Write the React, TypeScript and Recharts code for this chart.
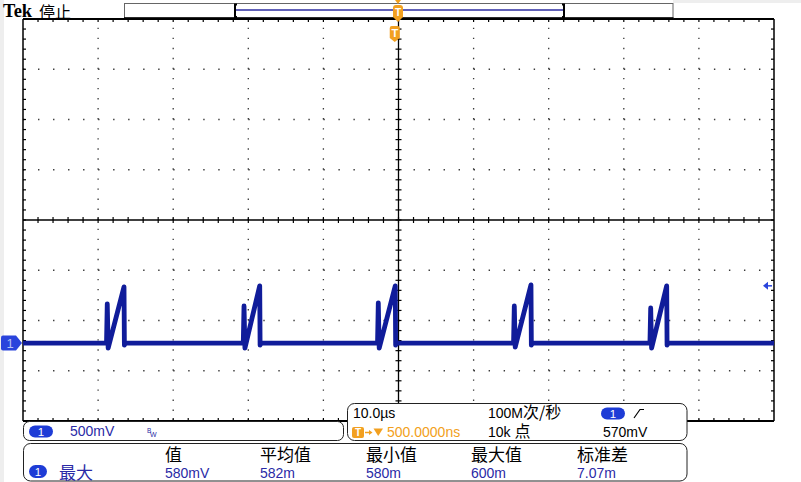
import React from 'react'
import { LineChart, Line, XAxis, YAxis, ReferenceLine, ReferenceDot } from 'recharts'

// ─── Scope settings ───────────────────────────────────────────────────────────

const T_DOMAIN: [number, number] = [0, 100] // µs, 10 div × 10.0 µs
const VOLTS_PER_DIV = 0.5
const GROUND_DIV = -2.45 // channel 1 ground marker, in divisions from centre
const Y_MIN = -4 * VOLTS_PER_DIV - GROUND_DIV * VOLTS_PER_DIV
const Y_MAX = 4 * VOLTS_PER_DIV - GROUND_DIV * VOLTS_PER_DIV

const TRIGGER_TIME = 49.5 // µs (500 ns left of centre)
const TRIGGER_LEVEL = 0.57 // V

// ─── Waveform ─────────────────────────────────────────────────────────────────

const SPIKE_TIMES = [11.22, 29.43, 47.31, 65.42, 83.58]
const SPIKE_VOLTS = [0.39, 0.37, 0.4, 0.37, 0.35]
const DIP_VOLTS = [-0.05, -0.05, -0.05, -0.04, -0.05]
const PEAK_TIMES = [13.45, 31.52, 49.57, 67.64, 85.71]
const PEAK_VOLTS = [0.56, 0.57, 0.57, 0.58, 0.57]
const BASELINE_VOLTS = 0

// ─── Readouts ─────────────────────────────────────────────────────────────────

const MEAS_HEADERS = ['值', '平均值', '最小值', '最大值', '标准差']
const MEAS_VALUES = ['580mV', '582m', '580m', '600m', '7.07m']
const MEAS_X = [165, 260, 366, 471, 577]

// ─── Colours ──────────────────────────────────────────────────────────────────

const TRACE = '#101c9a'
const CH_BLUE = '#1e3cd6'
const TEXT_BLUE = '#2a2aa6'
const ORANGE = '#f2a020'
const DOTS = '#3a3a3a'

const FONT = '"Liberation Sans", Arial, sans-serif'
const CJK = '"Noto Sans CJK SC", sans-serif'

// plot box in pixels: x 23..774, y 19..421
const PX_T = (T_DOMAIN[1] - T_DOMAIN[0]) / 751
const PX_V = (Y_MAX - Y_MIN) / 402

function buildTrace() {
  const pts: { t: number; v: number }[] = [{ t: T_DOMAIN[0], v: BASELINE_VOLTS }]
  SPIKE_TIMES.forEach((st, i) => {
    pts.push({ t: st - 0.1, v: BASELINE_VOLTS })
    pts.push({ t: st, v: SPIKE_VOLTS[i] })
    pts.push({ t: st + 0.12, v: DIP_VOLTS[i] })
    pts.push({ t: PEAK_TIMES[i], v: PEAK_VOLTS[i] })
    pts.push({ t: PEAK_TIMES[i] + 0.05, v: -0.02 })
    pts.push({ t: PEAK_TIMES[i] + 0.2, v: BASELINE_VOLTS })
  })
  pts.push({ t: T_DOMAIN[1], v: BASELINE_VOLTS })
  return pts
}

const range = (n: number) => Array.from({ length: n }, (_, i) => i)

// ─── Markers ──────────────────────────────────────────────────────────────────

function GroundMarker({ cx, cy }: { cx?: number; cy?: number }) {
  const x = cx ?? 0
  const y = cy ?? 0
  return (
    <g>
      <path
        d={`M${x - 22},${y - 5.5} Q${x - 22},${y - 7.5} ${x - 20},${y - 7.5} L${x - 7},${y - 7.5} L${x - 1},${y} L${x - 7},${y + 7.5} L${x - 20},${y + 7.5} Q${x - 22},${y + 7.5} ${x - 22},${y + 5.5} Z`}
        fill="#2a44dc"
      />
      <text x={x - 13} y={y + 5} fontSize={13} fontFamily={FONT} fill="#b4c0f4" textAnchor="middle">1</text>
    </g>
  )
}

function LevelArrow({ cx, cy }: { cx?: number; cy?: number }) {
  const x = cx ?? 0
  const y = cy ?? 0
  return (
    <g fill="#2a44dc" stroke="#2a44dc">
      <path d={`M${x - 11},${y} L${x - 6},${y - 4} L${x - 6},${y + 4} Z`} stroke="none" />
      <line x1={x - 7} y1={y} x2={x - 2} y2={y} strokeWidth={1.5} />
    </g>
  )
}

function TMarker({ cx, cy }: { cx?: number; cy?: number }) {
  const x = cx ?? 0
  const y = (cy ?? 0) + 7
  return (
    <g>
      <path
        d={`M${x - 5},${y + 2} Q${x - 5},${y} ${x - 3},${y} L${x + 3},${y} Q${x + 5},${y} ${x + 5},${y + 2} L${x + 5},${y + 12} L${x},${y + 16} L${x - 5},${y + 12} Z`}
        fill={ORANGE}
      />
      <text x={x} y={y + 11} fontSize={11} fontWeight="bold" fontFamily={FONT} fill="#fff" textAnchor="middle">T</text>
    </g>
  )
}

// ─── Graticule ────────────────────────────────────────────────────────────────

function graticule() {
  const lines: React.ReactElement[] = []
  const common = { ifOverflow: 'visible' as const }
  // dotted division lines
  range(9).forEach((i) => {
    const t = (i + 1) * 10
    if (t === 50) return
    lines.push(
      <ReferenceLine key={`vx${i}`} x={t} stroke={DOTS} strokeWidth={1.3} strokeDasharray="1.4 8.65" {...common} />,
    )
  })
  range(7).forEach((i) => {
    if (i === 3) return
    const v = Y_MIN + (i + 1) * VOLTS_PER_DIV
    lines.push(
      <ReferenceLine key={`hy${i}`} y={v} stroke={DOTS} strokeWidth={1.3} strokeDasharray="1.4 13.62" {...common} />,
    )
  })
  // centre cross
  const yc = Y_MIN + 4 * VOLTS_PER_DIV
  lines.push(<ReferenceLine key="cx" x={50} stroke="#000" strokeWidth={1.3} {...common} />)
  lines.push(<ReferenceLine key="cy" y={yc} stroke="#000" strokeWidth={1.5} {...common} />)
  // minor ticks
  range(49).forEach((i) => {
    const t = (i + 1) * 2
    lines.push(
      <ReferenceLine key={`tc${i}`} segment={[{ x: t, y: yc - 3 * PX_V }, { x: t, y: yc + 3 * PX_V }]} stroke="#000" strokeWidth={1.2} {...common} />,
      <ReferenceLine key={`tt${i}`} segment={[{ x: t, y: Y_MAX }, { x: t, y: Y_MAX - 3 * PX_V }]} stroke="#000" strokeWidth={1.2} {...common} />,
      <ReferenceLine key={`tb${i}`} segment={[{ x: t, y: Y_MIN }, { x: t, y: Y_MIN + 3 * PX_V }]} stroke="#000" strokeWidth={1.2} {...common} />,
    )
  })
  range(39).forEach((i) => {
    const v = Y_MIN + (i + 1) * 0.1
    lines.push(
      <ReferenceLine key={`vc${i}`} segment={[{ x: 50 - 3 * PX_T, y: v }, { x: 50 + 3 * PX_T, y: v }]} stroke="#000" strokeWidth={1.2} {...common} />,
      <ReferenceLine key={`vl${i}`} segment={[{ x: 0, y: v }, { x: 3 * PX_T, y: v }]} stroke="#000" strokeWidth={1.2} {...common} />,
      <ReferenceLine key={`vr${i}`} segment={[{ x: 100, y: v }, { x: 100 - 3 * PX_T, y: v }]} stroke="#000" strokeWidth={1.2} {...common} />,
    )
  })
  // frame
  lines.push(
    <ReferenceLine key="ft" y={Y_MAX} stroke="#000" strokeWidth={2} {...common} />,
    <ReferenceLine key="fb" y={Y_MIN} stroke="#000" strokeWidth={2} {...common} />,
    <ReferenceLine key="fl" x={0} stroke="#000" strokeWidth={1.5} {...common} />,
    <ReferenceLine key="fr" x={100} stroke="#000" strokeWidth={1.5} {...common} />,
  )
  return lines
}

// ─── Screen chrome ────────────────────────────────────────────────────────────

function Backdrop() {
  return (
    <svg width={801} height={482} style={{ position: 'absolute', left: 0, top: 0 }}>
      <rect x={0} y={0} width={801} height={482} fill="#fff" />
      <rect x={0} y={0} width={4} height={482} fill="#eeeeee" />
      <rect x={673} y={0} width={128} height={3} fill="#eeeeee" />
    </svg>
  )
}

function Chrome() {
  return (
    <svg width={801} height={482} style={{ position: 'absolute', left: 0, top: 0, pointerEvents: 'none' }}>
      {/* title */}
      <text x={3} y={17} fontSize={18.5} fontWeight="bold" fontFamily='"Liberation Serif", serif' fill="#000">Tek</text>
      <text x={39} y={17.5} fontSize={16} fontFamily={CJK} fill="#000">停止</text>

      {/* record bar */}
      <rect x={124.5} y={3.5} width={548.5} height={14.5} fill="#fff" stroke="#666" strokeWidth={1} />
      <line x1={124} y1={18.2} x2={673.5} y2={18.2} stroke="#000" strokeWidth={1.8} />
      <line x1={235} y1={10} x2={564} y2={10} stroke="#2c2ca0" strokeWidth={1.5} />
      <path d="M237,4.5 L235,4.5 L235,17 L237,17" fill="none" stroke="#000" strokeWidth={2} />
      <path d="M562,4.5 L564,4.5 L564,17 L562,17" fill="none" stroke="#000" strokeWidth={2} />
      <path d="M395,0 L401,0 L398,4 Z" fill={ORANGE} />
      <path d="M393,8 Q393,5 396,5 L400,5 Q403,5 403,8 L403,17 L398,22 L393,17 Z" fill={ORANGE} />
      <text x={398} y={16} fontSize={10} fontWeight="bold" fontFamily={FONT} fill="#fff" textAnchor="middle">T</text>

      {/* channel box */}
      <rect x={23.5} y={421.5} width={320} height={19} rx={6} fill="#fff" stroke="#222" strokeWidth={1} />
      <rect x={29} y={425.5} width={24} height={12} rx={6} fill={CH_BLUE} />
      <text x={41} y={435.5} fontSize={11.5} fontFamily={FONT} fill="#fff" textAnchor="middle">1</text>
      <text x={70} y={436} fontSize={14} fontFamily={FONT} fill={TEXT_BLUE}>500mV</text>
      <text x={147} y={432.5} fontSize={6.5} fontFamily={FONT} fill={TEXT_BLUE}>B</text>
      <text x={150} y={436.5} fontSize={7} fontFamily={FONT} fill={TEXT_BLUE}>W</text>

      {/* timebase box */}
      <rect x={347.5} y={403.5} width={339.5} height={37} rx={7} fill="#fff" stroke="#222" strokeWidth={1} />
      <text x={353} y={418} fontSize={14} fontFamily={FONT} fill="#000">10.0µs</text>
      <text x={488} y={418} fontSize={14} fontFamily={FONT} fill="#000">
        100M<tspan fontSize={16} fontFamily={CJK}>次/秒</tspan>
      </text>
      <rect x={601} y={407.5} width={24} height={12} rx={6} fill={CH_BLUE} />
      <text x={613} y={417.5} fontSize={11.5} fontFamily={FONT} fill="#fff" textAnchor="middle">1</text>
      <polyline points="634,418 640,409.5 644,409.5" fill="none" stroke="#000" strokeWidth={1.2} />
      <rect x={352} y={427} width={12} height={11} rx={2} fill={ORANGE} />
      <text x={358} y={436} fontSize={10} fontWeight="bold" fontFamily={FONT} fill="#fff" textAnchor="middle">T</text>
      <line x1={365} y1={432.5} x2={370} y2={432.5} stroke={ORANGE} strokeWidth={1.5} />
      <path d="M369,430 L372.5,432.5 L369,435 Z" fill={ORANGE} />
      <path d="M373.5,428.5 L383,428.5 L378.2,436 Z" fill={ORANGE} />
      <text x={387} y={437} fontSize={14} fontFamily={FONT} fill={ORANGE}>500.0000ns</text>
      <text x={488} y={437} fontSize={14} fontFamily={FONT} fill="#000">
        10k <tspan fontSize={16} fontFamily={CJK}>点</tspan>
      </text>
      <text x={603} y={437} fontSize={14} fontFamily={FONT} fill="#000">570mV</text>

      {/* measurement box */}
      <rect x={23.5} y={443.5} width={663.5} height={37.5} rx={7} fill="#fff" stroke="#222" strokeWidth={1} />
      {MEAS_HEADERS.map((h, i) => (
        <text key={h} x={MEAS_X[i]} y={461} fontSize={17} fontFamily={CJK} fill="#000">{h}</text>
      ))}
      <rect x={29} y={465} width={18} height={13} rx={6.5} fill={CH_BLUE} />
      <text x={38} y={475.5} fontSize={11.5} fontFamily={FONT} fill="#fff" textAnchor="middle">1</text>
      <text x={59} y={478.5} fontSize={17} fontFamily={CJK} fill={TEXT_BLUE}>最大</text>
      {MEAS_VALUES.map((v, i) => (
        <text key={v} x={MEAS_X[i]} y={477.5} fontSize={14} fontFamily={FONT} fill={TEXT_BLUE}>{v}</text>
      ))}
    </svg>
  )
}

// ─── App ──────────────────────────────────────────────────────────────────────

export default function App() {
  const data = buildTrace()
  return (
    <div style={{ position: 'absolute', left: 0, top: 0, width: 801, height: 482, overflow: 'hidden' }}>
      <Backdrop />
      <LineChart width={801} height={482} data={data} margin={{ top: 19, right: 27, bottom: 61, left: 23 }}>
        <XAxis dataKey="t" type="number" domain={T_DOMAIN} allowDataOverflow hide />
        <YAxis type="number" domain={[Y_MIN, Y_MAX]} allowDataOverflow hide />
        {graticule()}
        <Line
          dataKey="v"
          type="linear"
          stroke={TRACE}
          strokeWidth={4.8}
          strokeLinejoin="round"
          dot={false}
          isAnimationActive={false}
        />
        <ReferenceDot x={0} y={BASELINE_VOLTS} ifOverflow="visible" shape={(p: any) => <GroundMarker cx={p.cx} cy={p.cy} />} />
        <ReferenceDot x={100} y={TRIGGER_LEVEL} ifOverflow="visible" shape={(p: any) => <LevelArrow cx={p.cx} cy={p.cy} />} />
        <ReferenceDot x={TRIGGER_TIME} y={Y_MAX} ifOverflow="visible" shape={(p: any) => <TMarker cx={p.cx} cy={p.cy} />} />
      </LineChart>
      <Chrome />
    </div>
  )
}
